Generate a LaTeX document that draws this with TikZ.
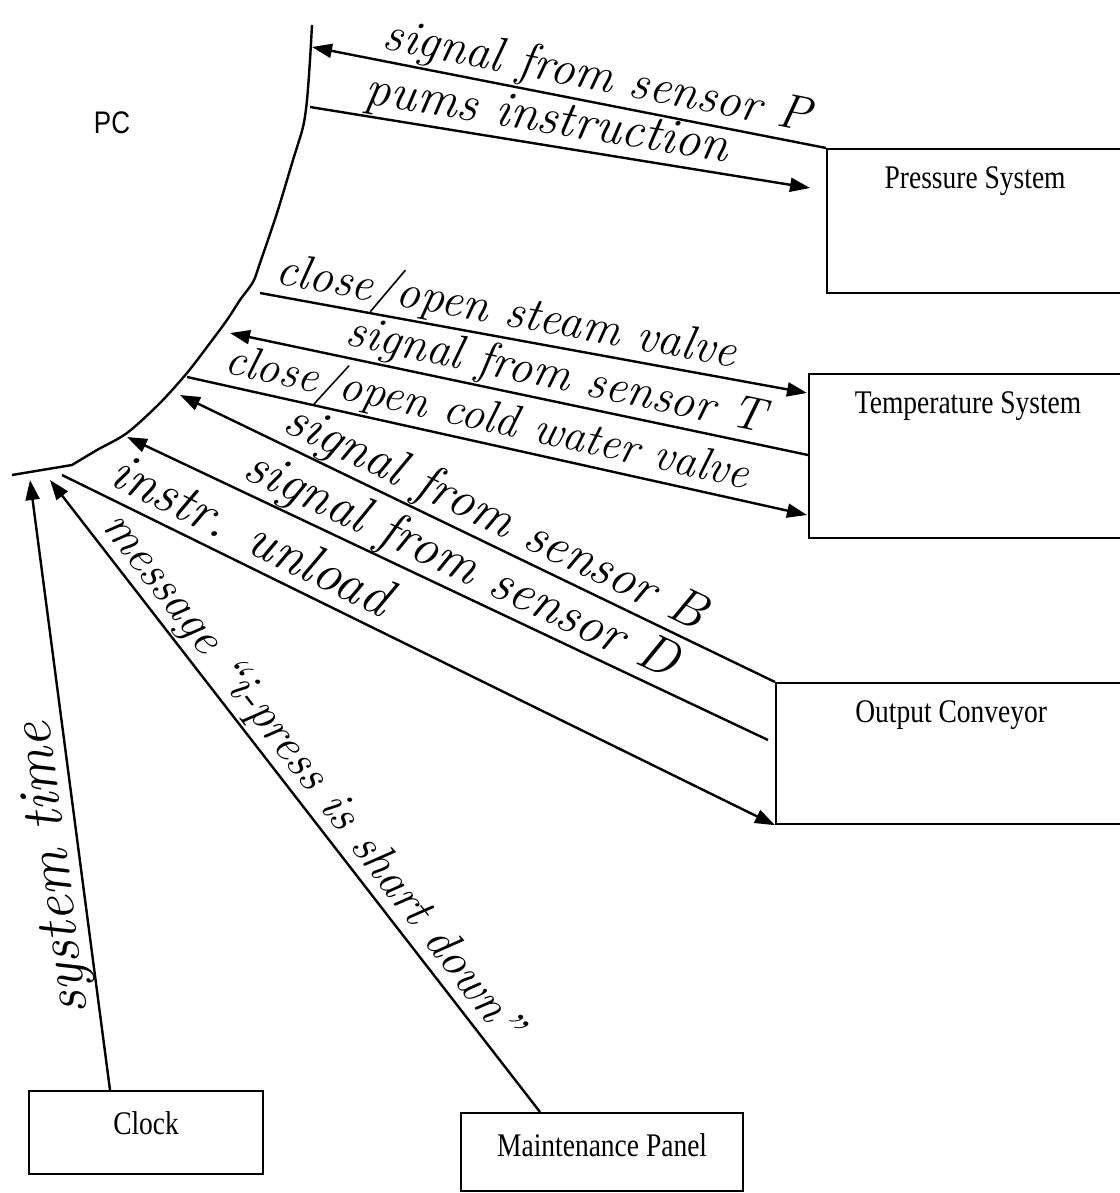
\documentclass[tikz,border=0pt]{standalone}
\usepackage{fontspec}
\newfontfamily\serifbox{Liberation Serif}
\newfontfamily\sansbox{Liberation Sans}
\newcommand{\tallbox}[1]{\scalebox{1}[1.2]{#1}}
\usetikzlibrary{arrows.meta}
\begin{document}
\begin{tikzpicture}[x=1pt,y=-1pt,
  arr/.style={line width=2.4pt,-{Triangle[length=20pt,width=14pt]}},
  ln/.style={line width=2.4pt},
  sysbox/.style={draw, line width=2.2pt, rectangle, anchor=north west, inner sep=0pt},
  boxtext/.style={anchor=center, yshift=-33pt, font=\serifbox\fontsize{27.5}{30}\selectfont},
  hw/.style={sloped, above=11pt, text depth=0pt, inner sep=0pt},
  hwf/.style={font=\itshape\fontsize{#1}{#1}\selectfont},
]
\useasboundingbox (0,0) rectangle (1119,1193);

% system boxes
\node[sysbox, minimum width=296pt, minimum height=144pt, label={[boxtext]north:\tallbox{Pressure System}}] (ps) at (826,148) {};
\node[sysbox, minimum width=318pt, minimum height=164pt, label={[boxtext]north:\tallbox{Temperature System}}] (ts) at (808,373) {};
\node[sysbox, minimum width=350pt, minimum height=141pt, label={[boxtext]north:\tallbox{Output Conveyor}}] (oc) at (775,682) {};
\node[sysbox, minimum width=234pt, minimum height=83pt, label={[boxtext]north:\tallbox{Clock}}] (clk) at (28,1090) {};
\node[sysbox, minimum width=282pt, minimum height=78pt, label={[boxtext]north:\tallbox{Maintenance Panel}}] (mp) at (460,1112) {};

% PC boundary
\node[font=\sansbox\fontsize{26}{28}\selectfont, inner sep=0pt] (pc) at (112,123) {\tallbox{PC}};
\draw[ln] plot[smooth, tension=0.5] coordinates {(312,25) (310,60) (307,100) (303,127) (293,160) (277,213) (260,263) (253,282) (240,300) (227,320) (207,347) (187,373) (160,403) (127,433) (97,450) (72,465)} -- (12,475);

\coordinate (pcP) at (312,47);
\coordinate (pcPI) at (310,107);
\coordinate (pcSV) at (260,293);
\coordinate (pcT) at (230,333);
\coordinate (pcCW) at (187,377);
\coordinate (pcB) at (180,395);
\coordinate (pcD) at (127,437);
\coordinate (pcU) at (62,475);
\coordinate (pcST) at (30,480);
\coordinate (pcM) at (50,480);
\coordinate (dEnd) at (768,740);

% flows
\draw[arr] (ps.north west) -- node[hw,hwf=49,pos=0.455]{signal from sensor P} (pcP);
\draw[arr] (pcPI) -- node[hw,hwf=51,pos=0.466]{pums instruction} ([xshift=-16pt,yshift=-40pt]ps.north west);
\draw[arr] (pcSV) -- node[hw,hwf=48,pos=0.442]{close/open steam valve} ([xshift=-1pt,yshift=-20pt]ts.north west);
\draw[arr] ([yshift=-82pt]ts.north west) -- node[hw,hwf=48,pos=0.446]{signal from sensor T} (pcT);
\draw[arr] (pcCW) -- node[hw,hwf=46,pos=0.476]{close/open cold water valve} ([xshift=-1pt,yshift=-142pt]ts.north west);
\draw[arr] (oc.north west) -- node[hw,hwf=52,pos=0.489]{signal from sensor B} (pcB);
\draw[arr] (dEnd) -- node[hw,hwf=53,pos=0.496]{signal from sensor D} (pcD);
\draw[arr] (pcU) -- node[hw,hwf=55,pos=0.248]{instr. unload} (oc.south west);
\draw[arr] ([xshift=82pt]clk.north west) -- node[hw,hwf=58,allow upside down,pos=0.369]{system time} (pcST);
\draw[arr] ([xshift=80pt]mp.north west) -- node[hw,hwf=48,pos=0.507]{message ``i-press is shart down''} (pcM);
\end{tikzpicture}
\end{document}
